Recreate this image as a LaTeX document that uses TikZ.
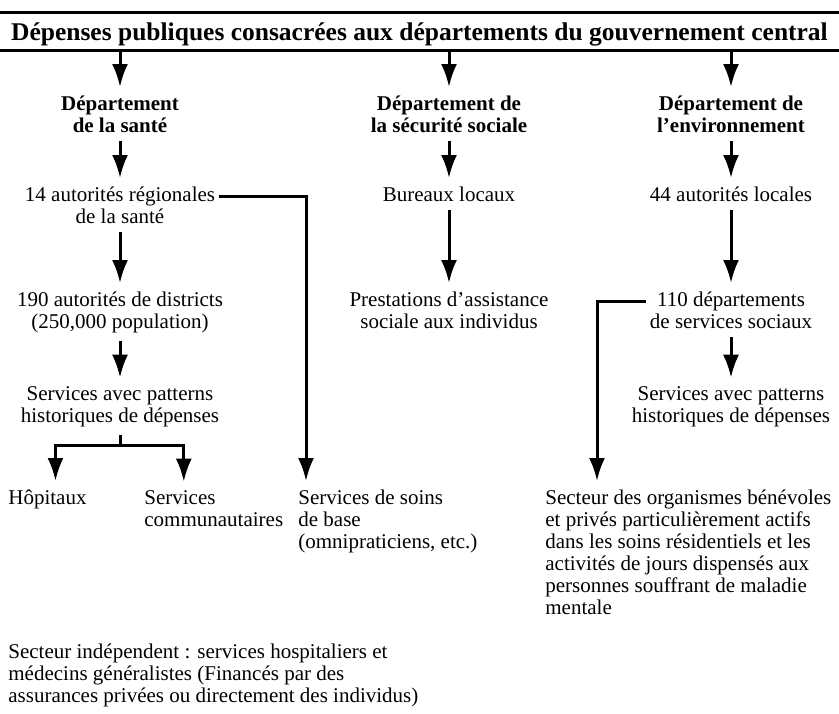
\documentclass[tikz,border=0pt]{standalone}
\usepackage{fontspec}
\setmainfont{Liberation Serif}
\usetikzlibrary{
    arrows.meta,
    calc,
    positioning,
}
\tikzset{
    >={Latex[length=11.5pt,width=8pt]}
}
\newcommand{\corps}{\fontsize{10.5pt}{11pt}\selectfont}

\begin{document}
\begin{tikzpicture}[
    x=0.5pt,y=-0.5pt,
    lbl/.style={font=\corps,align=center,anchor=base,inner xsep=2pt,inner ysep=4pt},
    dept/.style={lbl,font=\corps\bfseries},
    leftlbl/.style={lbl,align=left,anchor=base west},
    rule/.style={line width=1.8pt},
    arr/.style={->,line width=1.5pt},
    link/.style={line width=1.5pt}
    ]
    \useasboundingbox (0,0) rectangle (839,713);

    % bandeau du haut
    \node[font=\fontsize{12.75pt}{14pt}\selectfont\bfseries,minimum width=419.5pt,minimum height=18.5pt,
        text height=8.5pt,text depth=0pt,inner ysep=0pt] (titre) at (419.5,31.5)
        {Dépenses publiques consacrées aux départements du gouvernement central};
    \draw[rule] (titre.north west) -- (titre.north east);
    \draw[rule] (titre.south west) -- (titre.south east);

    % colonne santé (les noeuds sont placés sur la ligne de base de leur dernière ligne)
    \node[dept] (sante) at (120,132) {Département\\de la santé};
    \node[lbl] (regions) at (120,223) {14 autorités régionales\\de la santé};
    \node[lbl] (districts) at (120,328) {190 autorités de districts\\(250,000 population)};
    \node[lbl] (hist1) at (120,422) {Services avec patterns\\historiques de dépenses};
    \node[leftlbl] (hopitaux) at (4,504) {Hôpitaux};
    \node[leftlbl] (communs) at (140,526) {Services\\communautaires};
    \node[leftlbl] (soins) at (294,548) {Services de soins\\de base\\(omnipraticiens, etc.)};

    % colonne sécurité sociale
    \node[dept] (secu) at (449,132) {Département de\\la sécurité sociale};
    \node[lbl] (bureaux) at (449,201) {Bureaux locaux};
    \node[lbl] (prestations) at (449,328) {Prestations d’assistance\\sociale aux individus};

    % colonne environnement
    \node[dept] (env) at (731,132) {Département de\\l’environnement};
    \node[lbl] (locales) at (731,201) {44 autorités locales};
    \node[lbl] (sociaux) at (731,328) {110 départements\\de services sociaux};
    \node[lbl] (hist3) at (731,422) {Services avec patterns\\historiques de dépenses};
    \node[leftlbl] (benevoles) at (541,614) {Secteur des organismes bénévoles\\et privés particulièrement actifs\\dans les soins résidentiels et les\\activités de jours dispensés aux\\personnes souffrant de maladie\\mentale};

    \node[leftlbl] (independant) at (4,702) {Secteur indépendent : services hospitaliers et\\médecins généralistes (Financés par des\\assurances privées ou directement des individus)};

    % flèches
    \foreach \d in {sante,secu,env}
        \draw[arr] (titre.south -| \d.north) -- (\d.north);
    \draw[arr] (sante) -- (regions);
    \draw[arr] (regions) -- (districts);
    \draw[arr] (districts) -- (hist1);
    \draw[arr] (secu) -- (bureaux);
    \draw[arr] (bureaux) -- (prestations);
    \draw[arr] (env) -- (locales);
    \draw[arr] (locales) -- (sociaux);
    \draw[arr] (sociaux) -- (hist3);

    \coordinate (fourche) at (120,445);
    \draw[link] (hist1) -- (fourche);
    \draw[arr] (fourche) -| ([xshift=4pt]hopitaux.north);
    \draw[arr] (fourche) -| ([xshift=-15pt]communs.north);

    \draw[arr] ([yshift=13.5pt]regions.base east) -| ([xshift=6pt]soins.north west);
    \draw[arr] ([yshift=13.5pt]sociaux.base west) -| ([xshift=28pt]benevoles.north west);
\end{tikzpicture}
\end{document}
